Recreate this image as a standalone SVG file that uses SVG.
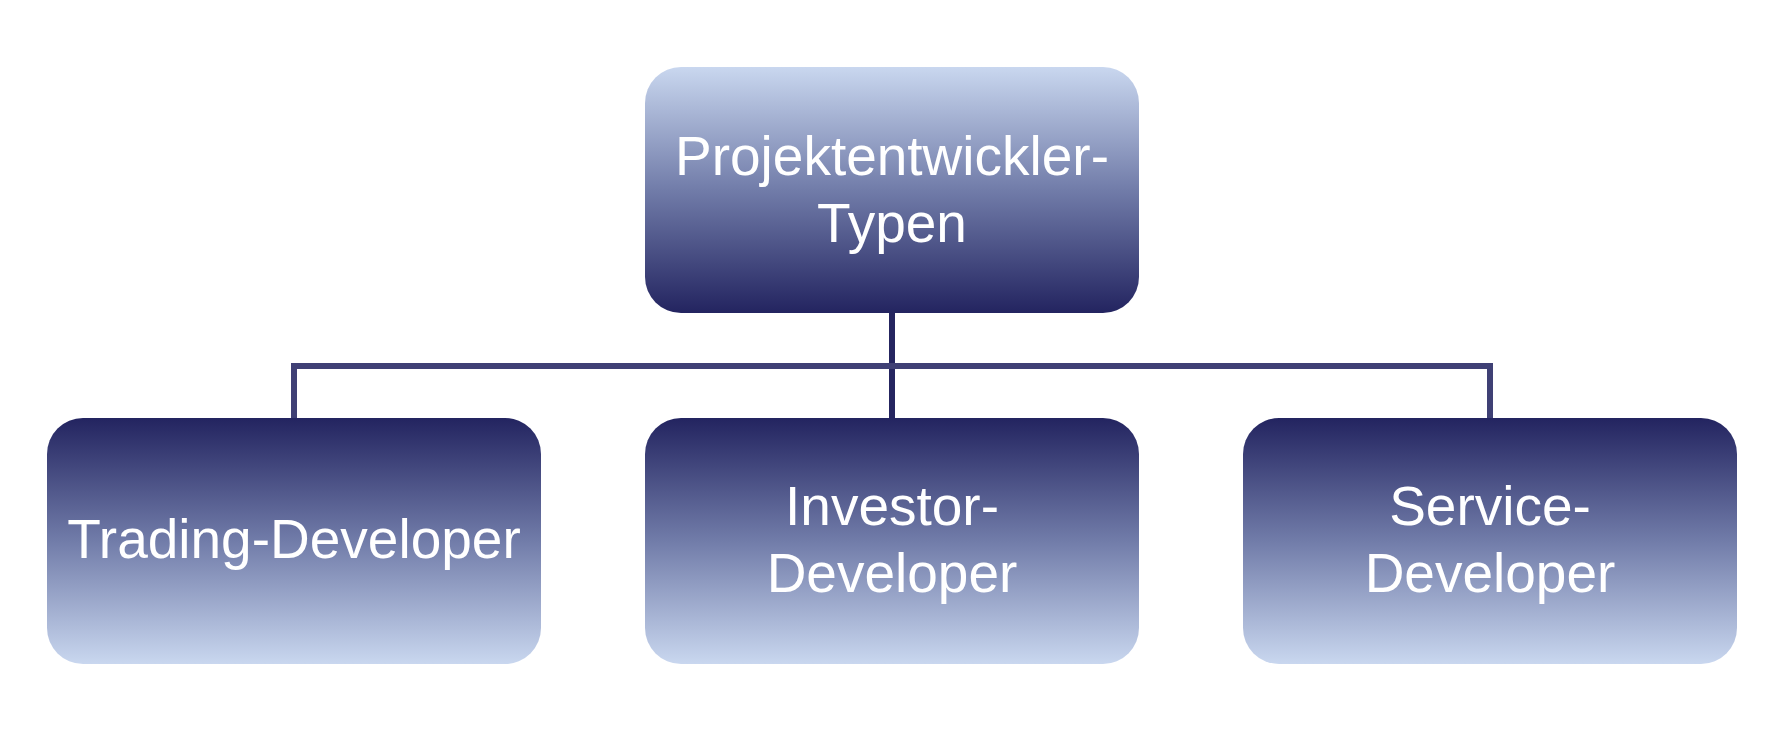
<svg xmlns="http://www.w3.org/2000/svg" width="1788" height="755" viewBox="0 0 1788 755">
  <defs>
    <linearGradient id="gDown" x1="0" y1="0" x2="0" y2="1">
      <stop offset="0" stop-color="#c9d7ef"/>
      <stop offset="0.5" stop-color="#717ca9"/>
      <stop offset="1" stop-color="#232460"/>
    </linearGradient>
    <linearGradient id="gUp" x1="0" y1="0" x2="0" y2="1">
      <stop offset="0" stop-color="#232460"/>
      <stop offset="0.5" stop-color="#717ca9"/>
      <stop offset="1" stop-color="#c9d7ef"/>
    </linearGradient>
    <style>
      .lbl { font-family: "Liberation Sans", Arial, sans-serif; font-size: 55px; fill: #ffffff; text-anchor: middle; }
      .conn { stroke: #3f4075; stroke-width: 6; fill: none; }
      .conn-main { stroke: #252560; stroke-width: 6; fill: none; }
    </style>
  </defs>
  <rect width="1788" height="755" fill="#ffffff"/>
  <g id="connectors">
    <line class="conn-main" x1="892" y1="312" x2="892" y2="418"/>
    <polyline class="conn" points="294,418 294,366 1490,366 1490,418"/>
  </g>
  <g id="node-root">
    <rect x="645" y="67" width="494" height="246" rx="36" ry="36" fill="url(#gDown)"/>
    <text class="lbl" x="892" y="175">Projektentwickler-</text>
    <text class="lbl" x="892" y="242">Typen</text>
  </g>
  <g id="node-trading">
    <rect x="47" y="418" width="494" height="246" rx="36" ry="36" fill="url(#gUp)"/>
    <text class="lbl" x="294" y="558">Trading-Developer</text>
  </g>
  <g id="node-investor">
    <rect x="645" y="418" width="494" height="246" rx="36" ry="36" fill="url(#gUp)"/>
    <text class="lbl" x="892" y="525">Investor-</text>
    <text class="lbl" x="892" y="592">Developer</text>
  </g>
  <g id="node-service">
    <rect x="1243" y="418" width="494" height="246" rx="36" ry="36" fill="url(#gUp)"/>
    <text class="lbl" x="1490" y="525">Service-</text>
    <text class="lbl" x="1490" y="592">Developer</text>
  </g>
</svg>
